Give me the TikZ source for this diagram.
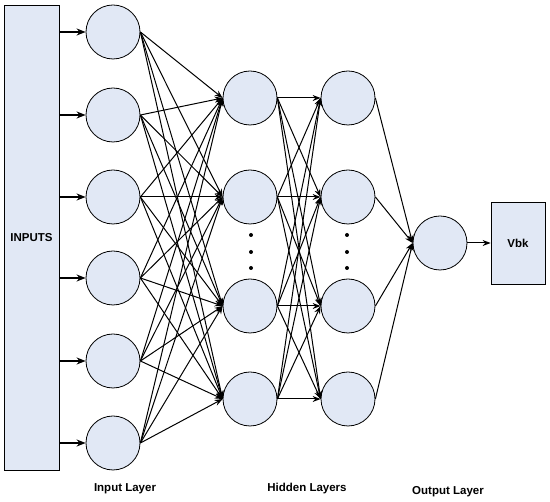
\documentclass[tikz,border=0pt]{standalone}
\usepackage{fontspec}
\setmainfont{Liberation Sans}
\usetikzlibrary{arrows.meta}
\definecolor{nodefill}{RGB}{225,232,245}

\begin{document}
\begin{tikzpicture}[x=1pt,y=-1pt,
  neuron/.style={draw,thick,circle,fill=nodefill,minimum size=54pt,inner sep=0pt},
  box/.style={draw,thick,fill=nodefill,inner sep=0pt,font=\bfseries\fontsize{11.5}{13}\selectfont},
  link/.style={line width=1pt,-{Stealth[length=8pt,width=6pt]}},
  feed/.style={line width=2pt,-{Stealth[length=9pt,width=7pt]}},
  caption/.style={font=\bfseries\fontsize{11.5}{13}\selectfont}]
\useasboundingbox (0,0) rectangle (550,502);
% inputs and input layer
\node[box,minimum width=55pt,minimum height=465pt] (inputs) at (31.5,237.5) {INPUTS};
\foreach \k/\y in {1/32,2/115,3/197,4/278,5/361,6/443} {
  \node[neuron] (i\k) at (113,\y) {};
  \draw[feed] (inputs.east |- i\k) -- (i\k.west);
}
% hidden layers
\foreach \k/\y in {1/98,2/197,3/306,4/399} {
  \node[neuron] (ha\k) at (250,\y) {};
  \node[neuron] (hb\k) at (348,\y) {};
}
\foreach \x in {251,347} { \foreach \y in {235,252,268} { \fill (\x,\y) circle (2pt); } }
% output
\node[neuron] (out) at (440,243) {};
\node[box,minimum width=54pt,minimum height=82pt] (vbk) at (518,243) {Vbk};
% connections
\foreach \a in {1,...,6} { \foreach \b in {1,...,4} { \draw[link] (i\a.east) -- (ha\b.west); } }
\foreach \a in {1,...,4} { \foreach \b in {1,...,4} { \draw[link] (ha\a.east) -- (hb\b.west); } }
\foreach \a in {1,...,4} { \draw[link] (hb\a.east) -- (out.west); }
\draw[link] (out.east) -- (vbk.west);
% layer names
\node[caption] (lin) at (125,489) {Input Layer};
\node[caption] (lhid) at (307,489) {Hidden Layers};
\node[caption] (lout) at (448,492) {Output Layer};
\end{tikzpicture}
\end{document}
